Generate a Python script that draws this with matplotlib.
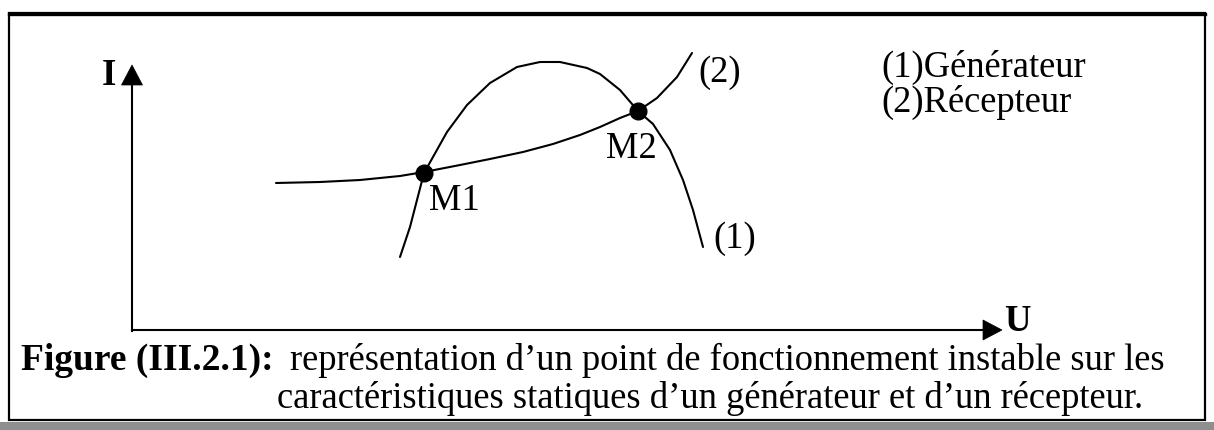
import matplotlib
matplotlib.use("Agg")
import matplotlib.pyplot as plt
from matplotlib.patches import Polygon, Rectangle

plt.rcParams['font.family'] = ['Liberation Serif', 'DejaVu Serif']

# ---- data (schematic units: U horizontal, I vertical) ----
gen_U = [2.68, 2.78, 2.85, 2.92, 3.01, 3.15, 3.35, 3.58, 3.85, 4.08, 4.28,
         4.55, 4.68, 4.88, 5.06, 5.21, 5.38, 5.51, 5.61, 5.71]
gen_I = [0.73, 1.03, 1.30, 1.57, 1.73, 1.98, 2.25, 2.47, 2.63, 2.68, 2.68,
         2.62, 2.56, 2.40, 2.19, 2.06, 1.80, 1.50, 1.20, 0.83]
rec_U = [1.44, 1.88, 2.28, 2.68, 2.92, 3.28, 3.58, 3.91, 4.21, 4.48, 4.68,
         4.88, 5.06, 5.25, 5.45, 5.60]
rec_I = [1.47, 1.48, 1.50, 1.54, 1.58, 1.65, 1.71, 1.78, 1.86, 1.95, 2.03,
         2.12, 2.19, 2.32, 2.53, 2.77]
points_U = [2.92, 5.06]
points_I = [1.57, 2.19]
point_labels = ["M1", "M2"]
curve_labels = ["(1)", "(2)"]
legend_lines = ["(1)Générateur", "(2)Récepteur"]
caption_bold = "Figure (III.2.1):"
caption_1 = "représentation d\u2019un point de fonctionnement instable sur les"
caption_2 = "caractéristiques statiques d\u2019un générateur et d\u2019un récepteur."

# pixel -> data mapping helpers (100 px per unit, origin at pixel (132, 330))
def px(x):
    return (x - 132) / 100.0

def py(y):
    return (330 - y) / 100.0

fig = plt.figure(figsize=(12.14, 4.30), dpi=100)
ax = fig.add_axes([0, 0, 1, 1])
ax.set_xlim(px(0), px(1214))
ax.set_ylim(py(430), py(0))
ax.axis('off')

lw = 1.5
FS = 26.3

# frame
ax.add_patch(Rectangle((px(9), py(420)), px(1205) - px(9), py(13) - py(420),
                       fill=False, ec='black', lw=1.6))
ax.plot([px(9), px(1205)], [py(13.5), py(13.5)], color='black', lw=2.4)
# scan band at the bottom
ax.add_patch(Rectangle((px(0), py(430)), px(1214) - px(0), py(421.5) - py(430),
                       fc='#8f8f8f', ec='none'))

# axes
ax.plot([0, 0], [py(331), py(84)], color='black', lw=lw)
ax.add_patch(Polygon([[px(121.5), py(85)], [px(142.5), py(85)], [px(132), py(65)]],
                     closed=True, fc='black', ec='black', lw=0.5))
ax.plot([0, px(985)], [0, 0], color='black', lw=lw)
ax.add_patch(Polygon([[px(983), py(320)], [px(983), py(340)], [px(1002), py(330)]],
                     closed=True, fc='black', ec='black', lw=0.5))
ax.text(px(102), py(85), "I", fontsize=26.5, fontweight='bold', ha='left', va='baseline')
ax.text(px(1004), py(331), "U", fontsize=26.5, fontweight='bold', ha='left', va='baseline')

# curves
ax.plot(gen_U, gen_I, color='black', lw=lw, solid_joinstyle='round', solid_capstyle='round')
ax.plot(rec_U, rec_I, color='black', lw=lw, solid_joinstyle='round', solid_capstyle='round')
ax.plot(points_U, points_I, 'o', color='black', ms=12, zorder=5)

# labels
ax.text(px(429), py(210), point_labels[0], fontsize=FS, ha='left', va='baseline')
ax.text(px(606), py(158), point_labels[1], fontsize=FS, ha='left', va='baseline')
ax.text(px(713), py(248), curve_labels[0], fontsize=FS, ha='left', va='baseline')
ax.text(px(698), py(82), curve_labels[1], fontsize=FS, ha='left', va='baseline')
ax.text(px(881), py(77), legend_lines[0], fontsize=FS, ha='left', va='baseline')
ax.text(px(881), py(112), legend_lines[1], fontsize=FS, ha='left', va='baseline')

# caption
ax.text(px(21), py(370), caption_bold, fontsize=27, fontweight='bold', ha='left', va='baseline')
ax.text(px(290), py(370), caption_1, fontsize=FS, ha='left', va='baseline')
ax.text(px(277), py(408), caption_2, fontsize=FS, ha='left', va='baseline')

fig.savefig("out.png", dpi=100)
